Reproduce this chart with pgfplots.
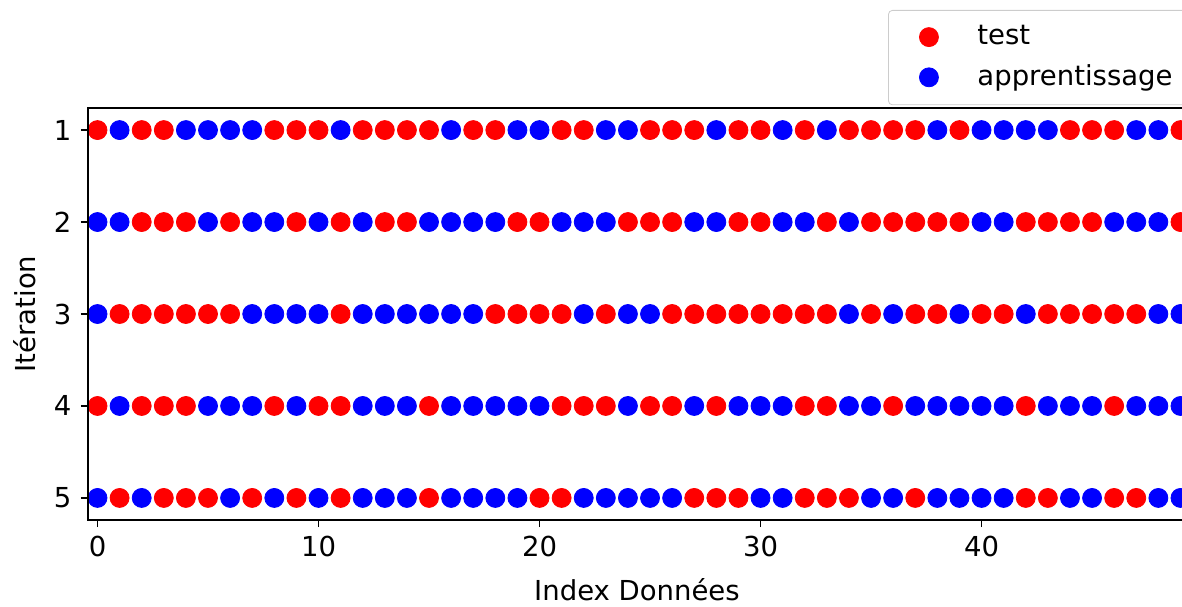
\documentclass[border=0pt]{standalone}
\usepackage{pgfplots}
\pgfplotsset{compat=1.18}
\usepackage{fontspec}
\setmainfont{DejaVu Sans}
\begin{document}
\fontsize{13.75pt}{16.5pt}\selectfont
\begin{tikzpicture}
\useasboundingbox (-44pt,-43pt) rectangle (547pt,260pt);
\begin{axis}[
  at={(0pt,0pt)}, anchor=south west,
  scale only axis,
  width=547pt, height=206pt,
  xmin=-0.43, xmax=49.07,
  ymin=0.76, ymax=5.24,
  y dir=reverse,
  xtick={0,10,20,30,40}, ytick={1,2,3,4,5},
  tick align=outside,
  major tick length=3.5pt,
  every tick/.style={black, line width=0.9pt},
  xtick pos=left, ytick pos=left,
  axis line style={draw=none},
  /pgf/number format/assume math mode=true,
  ticklabel style={font=\fontsize{13.75pt}{16.5pt}\selectfont},
  xlabel={Index Données}, ylabel={Itération},
  xlabel style={at={(axis description cs:0.5018,-0.170)}, anchor=center},
  ylabel style={at={(axis description cs:-0.0576,0.5)}, anchor=center},
  legend style={at={(axis description cs:0.7313,1.2379)}, anchor=north west,
    draw=black!20, rounded corners=2pt, inner xsep=15.5pt, inner ysep=5.5pt,
    font=\fontsize{13.75pt}{16.5pt}\selectfont,
    /tikz/every odd column/.append style={column sep=17.5pt},
    row sep=4pt},
  legend cell align=left,
  clip=false,
]
\addplot[only marks, mark=*, mark size=4.75pt, color=red, mark options={draw=red, fill=red}] coordinates {
(0,1)(2,1)(3,1)(8,1)(9,1)(10,1)(12,1)(13,1)(14,1)(15,1)(17,1)(18,1)(21,1)(22,1)(25,1)(26,1)(27,1)(29,1)(30,1)(32,1)(34,1)(35,1)(36,1)(37,1)(39,1)(44,1)(45,1)(46,1)(49,1)
(2,2)(3,2)(4,2)(6,2)(9,2)(11,2)(13,2)(14,2)(19,2)(20,2)(24,2)(25,2)(26,2)(29,2)(30,2)(33,2)(35,2)(36,2)(37,2)(38,2)(39,2)(42,2)(43,2)(44,2)(45,2)(49,2)
(1,3)(2,3)(3,3)(4,3)(5,3)(6,3)(11,3)(18,3)(19,3)(20,3)(21,3)(23,3)(26,3)(27,3)(28,3)(29,3)(30,3)(31,3)(32,3)(33,3)(35,3)(37,3)(38,3)(40,3)(41,3)(43,3)(44,3)(45,3)(46,3)(47,3)
(0,4)(2,4)(3,4)(4,4)(8,4)(10,4)(11,4)(15,4)(21,4)(22,4)(23,4)(25,4)(26,4)(28,4)(32,4)(33,4)(36,4)(42,4)(46,4)
(1,5)(3,5)(4,5)(5,5)(7,5)(9,5)(11,5)(15,5)(20,5)(21,5)(27,5)(28,5)(29,5)(32,5)(33,5)(34,5)(37,5)(42,5)(43,5)(46,5)(47,5)
};
\addlegendentry{test}
\addplot[only marks, mark=*, mark size=4.75pt, color=blue, mark options={draw=blue, fill=blue}] coordinates {
(1,1)(4,1)(5,1)(6,1)(7,1)(11,1)(16,1)(19,1)(20,1)(23,1)(24,1)(28,1)(31,1)(33,1)(38,1)(40,1)(41,1)(42,1)(43,1)(47,1)(48,1)
(0,2)(1,2)(5,2)(7,2)(8,2)(10,2)(12,2)(15,2)(16,2)(17,2)(18,2)(21,2)(22,2)(23,2)(27,2)(28,2)(31,2)(32,2)(34,2)(40,2)(41,2)(46,2)(47,2)(48,2)
(0,3)(7,3)(8,3)(9,3)(10,3)(12,3)(13,3)(14,3)(15,3)(16,3)(17,3)(22,3)(24,3)(25,3)(34,3)(36,3)(39,3)(42,3)(48,3)(49,3)
(1,4)(5,4)(6,4)(7,4)(9,4)(12,4)(13,4)(14,4)(16,4)(17,4)(18,4)(19,4)(20,4)(24,4)(27,4)(29,4)(30,4)(31,4)(34,4)(35,4)(37,4)(38,4)(39,4)(40,4)(41,4)(43,4)(44,4)(45,4)(47,4)(48,4)(49,4)
(0,5)(2,5)(6,5)(8,5)(10,5)(12,5)(13,5)(14,5)(16,5)(17,5)(18,5)(19,5)(22,5)(23,5)(24,5)(25,5)(26,5)(30,5)(31,5)(35,5)(36,5)(38,5)(39,5)(40,5)(41,5)(44,5)(45,5)(48,5)(49,5)
};
\addlegendentry{apprentissage}
\end{axis}
\draw[black, line width=0.9pt] (547pt,206pt) -- (0pt,206pt) -- (0pt,0pt) -- (547pt,0pt);
\end{tikzpicture}
\end{document}
